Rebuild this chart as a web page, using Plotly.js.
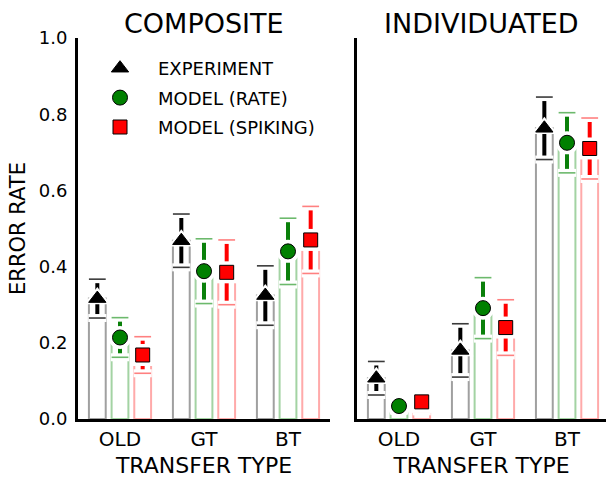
<!DOCTYPE html>
<html>
<head>
<meta charset="utf-8">
<script src="https://cdn.plot.ly/plotly-3.0.1.min.js"></script>
<style>html,body{margin:0;padding:0;background:#fff;}#chart{width:606px;height:478px;}</style>
</head>
<body>
<div id="chart"></div>
<script>
// ---- data ----
const categories = ['OLD', 'GT', 'BT'];
const seriesNames = ['EXPERIMENT', 'MODEL (RATE)', 'MODEL (SPIKING)'];
const panelTitles = ['COMPOSITE', 'INDIVIDUATED'];
const yTicks = [0.0, 0.2, 0.4, 0.6, 0.8, 1.0];

const compositeExperiment = [0.316, 0.468, 0.324];
const compositeExperimentErr = [0.051, 0.070, 0.078];
const compositeRate = [0.214, 0.388, 0.440];
const compositeRateErr = [0.052, 0.085, 0.087];
const compositeSpiking = [0.168, 0.385, 0.470];
const compositeSpikingErr = [0.048, 0.085, 0.088];

const individuatedExperiment = [0.107, 0.180, 0.763];
const individuatedExperimentErr = [0.044, 0.070, 0.082];
const individuatedRate = [0.034, 0.291, 0.725];
const individuatedRateErr = [0.012, 0.080, 0.079];
const individuatedSpiking = [0.045, 0.240, 0.710];
const individuatedSpikingErr = [0.025, 0.073, 0.080];

// ---- styles ----
const FONT = 'DejaVu Sans, sans-serif';
const styles = [
  {symbol: 'triangle-up', size: 15, fill: '#000000', edge: '#000000', bar: '#a0a0a0', dark: '#000000', cap: '#3a3a3a'},
  {symbol: 'circle', size: 15, fill: '#008000', edge: '#000000', bar: '#a3d3a3', dark: '#0a800a', cap: '#6cb96c'},
  {symbol: 'square', size: 14, fill: '#ff0000', edge: '#000000', bar: '#ffaaaa', dark: '#ff0000', cap: '#ff8080'}
];
const offsets = [-0.27, 0, 0.27];
const barWidth = 0.2;

const panels = [
  {xa: 'x', ya: 'y', vals: [compositeExperiment, compositeRate, compositeSpiking],
   errs: [compositeExperimentErr, compositeRateErr, compositeSpikingErr], legend: true},
  {xa: 'x2', ya: 'y2', vals: [individuatedExperiment, individuatedRate, individuatedSpiking],
   errs: [individuatedExperimentErr, individuatedRateErr, individuatedSpikingErr], legend: false}
];

const traces = [];
panels.forEach(p => {
  p.vals.forEach((vals, k) => {
    const st = styles[k];
    const errs = p.errs[k];
    const xs = categories.map((c, i) => i + offsets[k]);
    // bars
    traces.push({type: 'bar', x: xs, y: vals, width: barWidth, xaxis: p.xa, yaxis: p.ya,
      marker: {color: 'rgba(255,255,255,1)', line: {color: st.bar, width: 2}},
      showlegend: false, hoverinfo: 'skip'});
    // thick error line
    traces.push({type: 'scatter', mode: 'markers', x: xs, y: vals, xaxis: p.xa, yaxis: p.ya,
      marker: {size: 1, color: 'rgba(0,0,0,0)'},
      error_y: {type: 'data', array: errs, visible: true, color: st.dark, thickness: 4, width: 0},
      showlegend: false, hoverinfo: 'skip'});
    // caps (halo + cap)
    const capX = xs.concat(xs);
    const capY = vals.map((v, i) => v + errs[i]).concat(vals.map((v, i) => v - errs[i]));
    traces.push({type: 'scatter', mode: 'markers', x: capX, y: capY, xaxis: p.xa, yaxis: p.ya,
      marker: {symbol: 'line-ew', size: 13, line: {color: '#ffffff', width: 8}},
      showlegend: false, hoverinfo: 'skip'});
    traces.push({type: 'scatter', mode: 'markers', x: capX, y: capY, xaxis: p.xa, yaxis: p.ya,
      marker: {symbol: 'line-ew', size: 12, line: {color: st.cap, width: 1.6}},
      showlegend: false, hoverinfo: 'skip'});
    // marker halo
    traces.push({type: 'scatter', mode: 'markers', x: xs, y: vals, xaxis: p.xa, yaxis: p.ya,
      marker: {symbol: st.symbol, size: st.size + 8, color: '#ffffff', line: {width: 0}},
      showlegend: false, hoverinfo: 'skip'});
    // markers
    traces.push({type: 'scatter', mode: 'markers', x: xs, y: vals, xaxis: p.xa, yaxis: p.ya,
      name: seriesNames[k], legendgroup: seriesNames[k], showlegend: p.legend,
      marker: {symbol: st.symbol, size: st.size, color: st.fill, line: {color: st.edge, width: 1}}});
  });
});

const yTop = 1 - 38 / 478, yBot = 1 - 419 / 478;
const axisCommon = {
  showgrid: false, zeroline: false, showline: true, linecolor: '#000', linewidth: 3,
  ticks: '', fixedrange: true
};
const xTitle = {text: 'TRANSFER TYPE', font: {family: FONT, size: 22, color: '#000'}, standoff: 10};
const layout = {
  width: 606, height: 478,
  margin: {l: 0, r: 0, t: 0, b: 0},
  paper_bgcolor: '#fff', plot_bgcolor: '#fff',
  barmode: 'overlay',
  font: {family: FONT, color: '#000'},
  xaxis: Object.assign({}, axisCommon, {domain: [78 / 606, 330 / 606], range: [-0.5, 2.5],
    tickvals: [0, 1, 2], ticktext: categories, tickfont: {family: FONT, size: 20}, title: xTitle,
    anchor: 'y'}),
  xaxis2: Object.assign({}, axisCommon, {domain: [357 / 606, 1], range: [-0.5, 2.464],
    tickvals: [0, 1, 2], ticktext: categories, tickfont: {family: FONT, size: 20}, title: xTitle,
    anchor: 'y2'}),
  yaxis: Object.assign({}, axisCommon, {domain: [yBot, yTop], range: [0, 1], tickvals: yTicks,
    tickformat: '.1f', tickfont: {family: FONT, size: 18}, ticklabelstandoff: 4,
    title: {text: 'ERROR RATE', font: {family: FONT, size: 21, color: '#000'}, standoff: 8},
    anchor: 'x'}),
  yaxis2: Object.assign({}, axisCommon, {domain: [yBot, yTop], range: [0, 1], showticklabels: false,
    anchor: 'x2'}),
  showlegend: true,
  legend: {x: 82 / 606, y: 1 - 50 / 478, xanchor: 'left', yanchor: 'top', bgcolor: 'rgba(0,0,0,0)',
    font: {family: FONT, size: 18, color: '#000'}, itemwidth: 66, tracegroupgap: 3},
  annotations: panelTitles.map((t, i) => ({
    text: t, xref: i === 0 ? 'x domain' : 'x2 domain', yref: 'paper', x: 0.5, y: 1 - 23 / 478,
    xanchor: 'center', yanchor: 'middle', showarrow: false,
    font: {family: FONT, size: 27, color: '#000'}
  }))
};

Plotly.newPlot('chart', traces, layout, {displayModeBar: false, staticPlot: true});
</script>
</body>
</html>
